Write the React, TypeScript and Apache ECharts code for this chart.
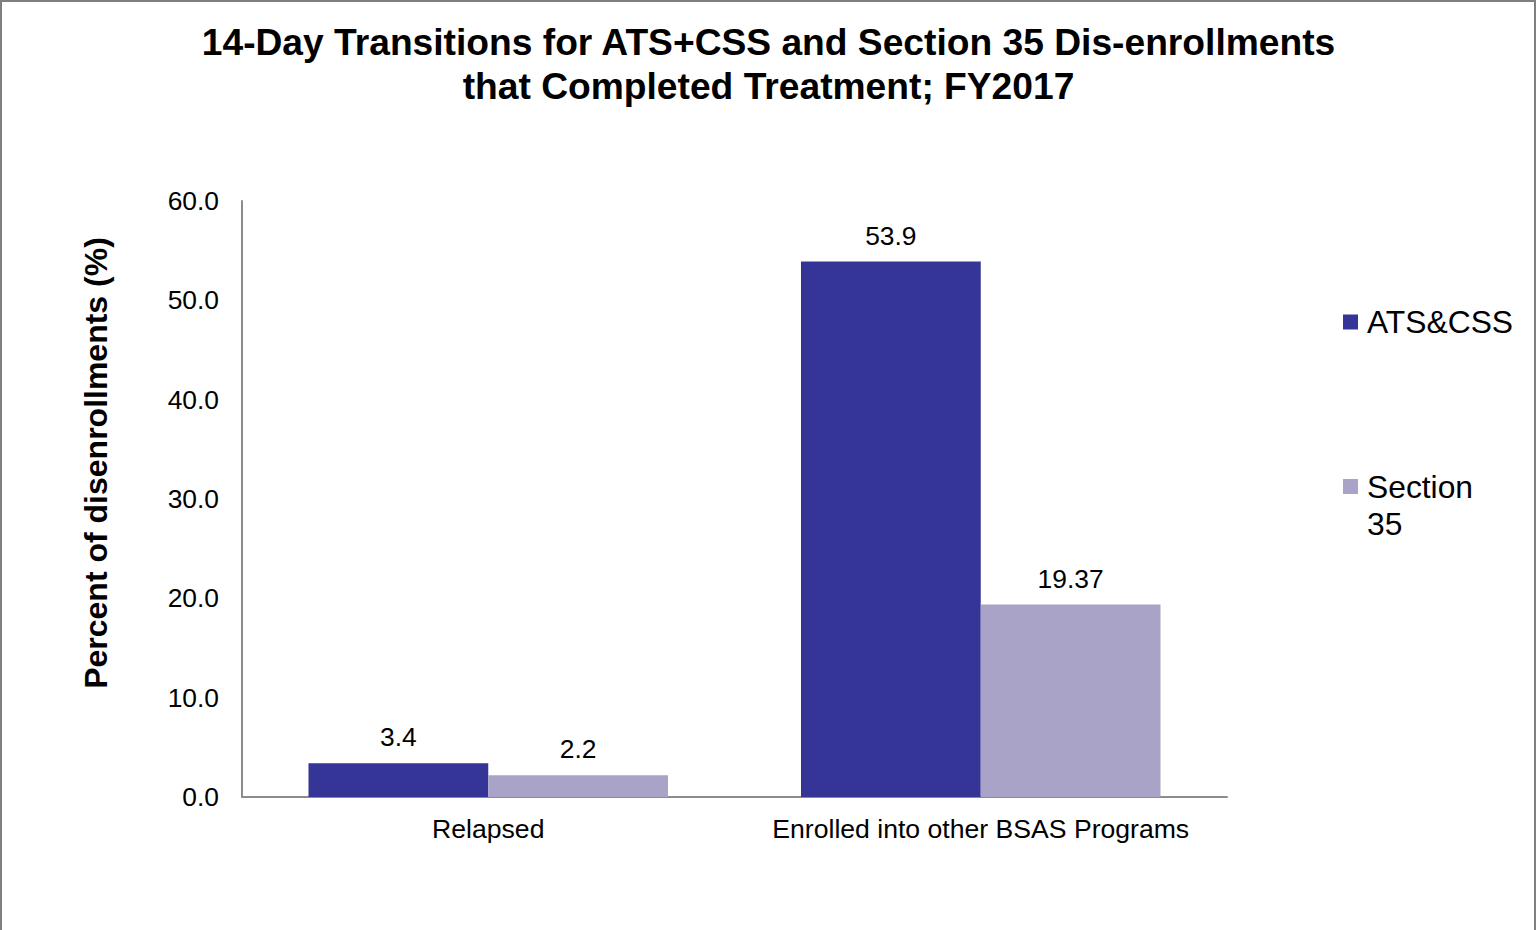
import React, { useEffect, useRef } from "react";
import * as echarts from "echarts";

const categories = ["Relapsed", "Enrolled into other BSAS Programs"];
const atsCss = [3.4, 53.9];
const section35 = [2.2, 19.37];
const seriesNames = ["ATS&CSS", "Section 35"];
const titleText = "14-Day Transitions for ATS+CSS and Section 35 Dis-enrollments\nthat Completed Treatment; FY2017";
const yAxisTitle = "Percent of disenrollments (%)";

const FONT = "'Liberation Sans', Arial, sans-serif";
const DARK = "#353597";
const LIGHT = "#A9A3C7";

export default function App() {
  const ref = useRef<HTMLDivElement>(null);
  useEffect(() => {
    if (!ref.current) return;
    const chart = echarts.init(ref.current, undefined, { renderer: "svg" });
    chart.setOption({
      animation: false,
      backgroundColor: "#ffffff",
      title: {
        text: titleText,
        left: "center",
        top: 15,
        textStyle: {
          fontFamily: FONT,
          fontSize: 37.2,
          fontWeight: "bold",
          color: "#000",
          lineHeight: 44,
        },
      },
      legend: [
        {
          data: [seriesNames[0]],
          left: 1338,
          top: 301,
          itemWidth: 15,
          itemHeight: 15,
          icon: "rect",
          selectedMode: false,
          textStyle: { fontFamily: FONT, fontSize: 31.8, color: "#000", padding: [0, 0, 0, 4] },
        },
        {
          data: [{ name: seriesNames[1] }],
          left: 1338,
          top: 426,
          itemWidth: 15,
          itemHeight: 15,
          icon: "rect",
          selectedMode: false,
          formatter: () => " \nSection\n35",
          textStyle: {
            fontFamily: FONT,
            fontSize: 31.8,
            color: "#000",
            lineHeight: 37,
            padding: [0, 0, 0, 4],
          },
        },
      ],
      grid: { left: 242, right: 310, top: 201, bottom: 133 },
      xAxis: {
        type: "category",
        data: categories,
        axisLine: { lineStyle: { color: "#8c8c8c", width: 2 } },
        axisTick: { show: false },
        axisLabel: { fontFamily: FONT, fontSize: 26.6, color: "#000", margin: 18, interval: 0 },
      },
      yAxis: {
        type: "value",
        min: 0,
        max: 60,
        interval: 10,
        axisLine: { show: true, lineStyle: { color: "#8c8c8c", width: 2 } },
        axisTick: { show: false },
        splitLine: { show: false },
        axisLabel: {
          fontFamily: FONT,
          fontSize: 26.4,
          color: "#000",
          margin: 23,
          formatter: (v: number) => v.toFixed(1),
        },
      },
      series: [
        {
          name: seriesNames[0],
          type: "bar",
          data: atsCss,
          barGap: "0%",
          barCategoryGap: "27%",
          itemStyle: { color: DARK },
          label: { show: true, position: "top", distance: 13, fontFamily: FONT, fontSize: 26.4, color: "#000" },
        },
        {
          name: seriesNames[1],
          type: "bar",
          data: section35,
          barGap: "0%",
          barCategoryGap: "27%",
          itemStyle: { color: LIGHT },
          label: { show: true, position: "top", distance: 13, fontFamily: FONT, fontSize: 26.4, color: "#000" },
        },
      ],
      graphic: [
        {
          type: "text",
          x: 96,
          y: 463,
          rotation: Math.PI / 2,
          style: {
            text: yAxisTitle,
            font: `bold 32px ${FONT}`,
            fill: "#000",
            textAlign: "center",
            textVerticalAlign: "middle",
          },
        },
        {
          type: "rect",
          silent: true,
          shape: { x: 1, y: 1, width: 1534, height: 1200 },
          style: { fill: "none", stroke: "#7f7f7f", lineWidth: 2 },
        },
      ],
    });
    return () => chart.dispose();
  }, []);
  return (
    <div
      ref={ref}
      style={{ position: "absolute", left: 0, top: 0, width: 1537, height: 930 }}
    />
  );
}
